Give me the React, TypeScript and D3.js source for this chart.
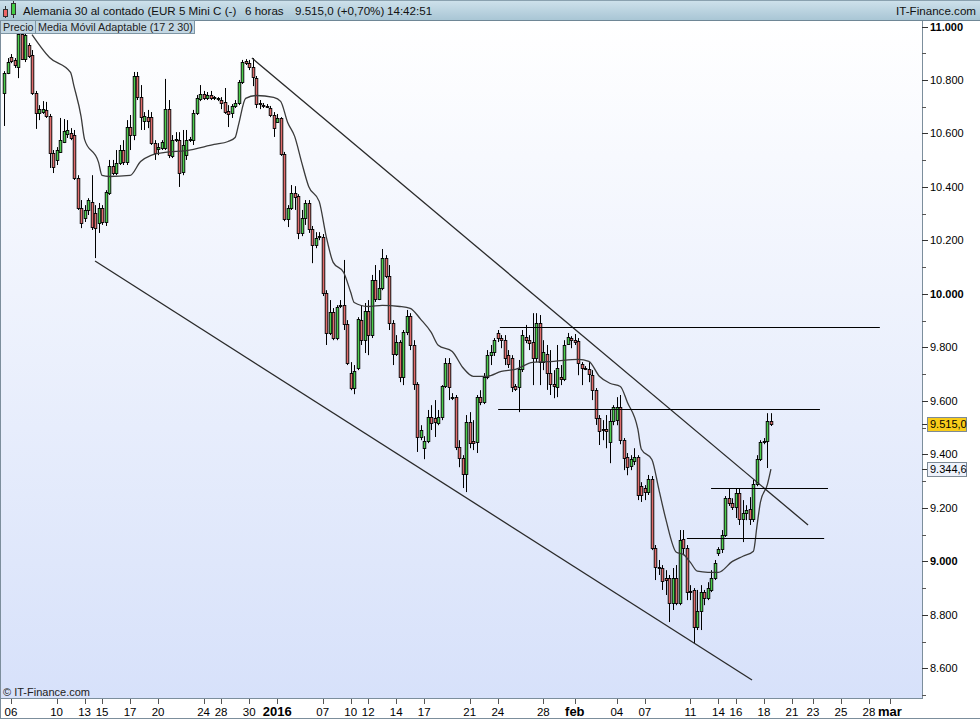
import React from 'react';
import * as d3 from 'd3';

// ---- candle data (6h bars, Dec 2015 - Feb 2016) ----
const opens = [10751,10826,10886,10875,10848,10972,10878,10931,10893,10751,10676,10680,10688,10665,10527,10501,10531,10568,10598,10602,10594,10433,10321,10284,10314,10344,10302,10265,10321,10269,10377,10478,10452,10489,10538,10493,10624,10594,10815,10736,10646,10661,10661,10564,10542,10545,10545,10691,10516,10575,10575,10456,10519,10575,10575,10676,10729,10747,10733,10744,10733,10729,10725,10718,10684,10676,10703,10714,10792,10871,10863,10848,10807,10714,10706,10703,10695,10669,10643,10658,10523,10280,10321,10377,10366,10228,10284,10340,10243,10183,10213,10213,10003,9854,9932,9835,9955,9958,9887,9704,9648,9723,9902,9827,9936,9846,10052,9981,10022,10134,10067,9891,9775,9820,9689,9857,9917,9809,9663,9465,9423,9450,9539,9536,9517,9539,9655,9741,9614,9614,9427,9386,9326,9521,9450,9446,9614,9596,9689,9771,9782,9854,9835,9827,9771,9760,9655,9652,9719,9839,9827,9820,9760,9891,9745,9775,9704,9663,9652,9689,9681,9812,9835,9827,9824,9738,9723,9719,9697,9640,9536,9494,9494,9446,9524,9528,9577,9453,9390,9356,9375,9390,9281,9274,9259,9308,9049,8978,8975,8937,8937,8844,8937,8844,9083,9049,8889,8893,8754,8814,8885,8863,8893,8937,9031,9046,9098,9236,9218,9203,9255,9158,9180,9195,9158,9289,9382,9446,9450,9524];
const highs = [10833,10882,10897,10882,10987,10987,10976,10938,10912,10759,10706,10721,10718,10673,10538,10549,10658,10654,10650,10620,10613,10444,10351,10332,10358,10444,10332,10340,10332,10388,10501,10501,10538,10557,10575,10650,10669,10830,10830,10781,10680,10688,10680,10575,10564,10575,10804,10725,10594,10605,10605,10613,10613,10587,10688,10744,10781,10759,10755,10759,10740,10736,10736,10770,10706,10710,10725,10800,10875,10878,10875,10882,10815,10725,10714,10710,10703,10680,10673,10661,10531,10332,10407,10403,10373,10314,10351,10351,10254,10231,10231,10224,10014,9977,9947,9958,9977,10127,9902,9745,9734,9913,9958,9966,9977,10071,10108,10089,10168,10145,10108,9902,9846,9827,9865,9940,9928,9827,9670,9509,9468,9566,9584,9603,9566,9659,9760,9760,9629,9622,9453,9397,9547,9558,9528,9622,9640,9704,9790,9809,9835,9865,9846,9846,9790,9771,9663,9753,9865,9884,9846,9928,9928,9921,9827,9809,9790,9715,9809,9734,9827,9854,9842,9850,9835,9745,9730,9745,9715,9648,9547,9528,9547,9566,9584,9614,9622,9461,9405,9397,9423,9397,9296,9285,9323,9319,9061,9005,8986,8967,8949,8975,8986,9117,9117,9061,8911,8900,8893,8911,8893,8922,8967,9005,9053,9117,9244,9274,9236,9274,9274,9229,9210,9240,9304,9397,9453,9461,9554,9554];
const lows = [10628,10822,10863,10845,10807,10875,10867,10882,10744,10617,10650,10673,10658,10471,10452,10482,10527,10564,10583,10575,10426,10314,10246,10269,10295,10239,10134,10228,10258,10254,10370,10444,10444,10482,10482,10482,10538,10575,10725,10613,10613,10620,10557,10501,10519,10538,10538,10508,10508,10568,10400,10444,10501,10568,10557,10669,10721,10725,10725,10725,10725,10721,10691,10673,10624,10658,10695,10706,10785,10856,10837,10777,10695,10691,10695,10695,10661,10587,10640,10516,10272,10250,10314,10314,10205,10216,10258,10228,10115,10171,10201,9992,9809,9846,9827,9827,9947,9865,9734,9640,9625,9715,9809,9779,9771,9835,9970,9977,10014,10059,9865,9734,9768,9670,9659,9846,9790,9641,9409,9453,9382,9442,9491,9465,9509,9528,9648,9603,9603,9416,9352,9274,9259,9423,9416,9405,9584,9588,9681,9734,9768,9820,9797,9734,9723,9633,9637,9558,9708,9816,9790,9659,9745,9659,9715,9641,9622,9610,9614,9659,9674,9809,9797,9809,9696,9659,9715,9670,9603,9510,9435,9453,9423,9367,9509,9509,9438,9341,9322,9341,9360,9229,9222,9229,9248,9042,8930,8949,8893,8874,8773,8818,8836,8836,9023,8855,8855,8694,8743,8743,8836,8855,8885,8930,9020,9031,9091,9207,9192,9162,9136,9072,9154,9136,9147,9281,9375,9438,9349,9506];
const closes = [10826,10867,10871,10856,10972,10878,10968,10890,10751,10676,10691,10691,10665,10527,10474,10538,10575,10609,10613,10583,10433,10321,10265,10314,10351,10250,10246,10321,10269,10381,10478,10452,10489,10538,10493,10624,10594,10815,10736,10661,10665,10646,10564,10527,10549,10568,10691,10519,10575,10579,10452,10557,10575,10579,10676,10733,10747,10733,10744,10733,10735,10731,10714,10680,10673,10703,10714,10792,10867,10863,10848,10811,10710,10710,10703,10699,10669,10620,10658,10523,10280,10321,10377,10362,10228,10284,10340,10243,10183,10209,10216,10003,9854,9932,9835,9951,9958,9887,9741,9648,9712,9906,9827,9936,9846,10052,9981,10022,10134,10067,9891,9775,9820,9689,9857,9917,9809,9663,9465,9491,9450,9539,9517,9521,9539,9655,9741,9652,9616,9427,9386,9326,9521,9442,9442,9614,9596,9689,9771,9782,9827,9835,9827,9760,9738,9652,9644,9719,9846,9827,9816,9760,9891,9745,9782,9704,9663,9655,9723,9681,9809,9839,9827,9820,9741,9723,9722,9700,9640,9536,9487,9491,9487,9524,9577,9577,9453,9386,9352,9382,9390,9248,9248,9259,9308,9049,8978,8975,8926,8930,8844,8937,8844,9080,9049,8885,8885,8754,8814,8885,8863,8900,8937,8993,9046,9098,9236,9218,9203,9255,9158,9180,9192,9158,9289,9382,9446,9450,9524,9515];

// ---- adaptive moving average (17 2 30), read at bar indices ----
const maIdx = [8,13,19,20,22,23,27,28,30,36,39,42,46,52,60,64,66,67,69,72,77,79,81,83,85,87,90,92,94,97,99,100,104,108,113,116,119,122,124,128,131,134,138,142,146,151,157,164,167,170,173,176,178,181,182,185,187,189,192,194,196,198,201,204,208,211,214,215,216,218,219];
const maVals = [10970,10884,10828,10776,10664,10578,10492,10443,10439,10443,10495,10518,10529,10536,10559,10570,10585,10634,10731,10742,10735,10720,10641,10589,10492,10402,10346,10215,10118,10080,10006,9968,9953,9957,9953,9946,9905,9856,9808,9785,9725,9692,9692,9710,9718,9744,9748,9755,9748,9692,9666,9654,9595,9494,9419,9381,9269,9157,9034,9026,8996,8963,8959,8959,9000,9019,9038,9131,9221,9288,9345];

// ---- drawn lines ----
const upperTrend = [[70.8, 10882], [229.6, 9136]];
const lowerTrend = [[26.0, 10123], [213.6, 8556]];
const levelValues = [9876, 9569, 9274, 9087];
const levelStart = [141.6, 141.1, 201.9, 195.0];
const levelEnd = [250.1, 233.0, 235.3, 234.2];

// ---- axes ----
const xTickIdx = [2,15,23,28,36,44,57,62,70,78,91,99,104,112,120,133,141,154,163,175,183,196,204,209,217,225,231,239,247,253];
const xTickLabels = ['06','10','13','15','17','20','24','28','30','2016','07','10','12','14','17','21','24','28','feb','04','07','11','14','16','18','21','23','25','28','mar'];
const boldXLabels = ['2016','feb','mar'];
const yTickValues = [8600,8800,9000,9200,9400,9600,9800,10000,10200,10400,10600,10800,11000];
const yMinorValues = [8500,8700,8900,9100,9300,9500,9700,9900,10100,10300,10500,10700,10900];
const boldYValues = [9000,10000,11000];

const lastPrice = 9515.0;
const lastMA = 9344.6;
const titleParts = ['Alemania 30 al contado (EUR 5 Mini C (-)', '6 horas', '9.515,0 (+0,70%)', '14:42:51'];
const titleX = [23, 245, 295, 387];

const FONT = '"Liberation Sans", Arial, sans-serif';
const W = 980, H = 720;
const PLOT_R = 922, PLOT_T = 21, PLOT_B = 698;

const fmtAxis = (v: number) => {
  const s = String(Math.round(v));
  return s.length > 3 ? s.slice(0, s.length - 3) + '.' + s.slice(-3) : s;
};
const fmtPrice = (v: number) => fmtAxis(Math.floor(v)) + ',' + Math.round((v - Math.floor(v)) * 10);

export default function App() {
  const x = d3.scaleLinear().domain([0, 253]).range([4, 890]);
  const y = d3.scaleLinear().domain([8600, 11000]).range([668.3, 26.5]);

  const maLine = d3.line<number>()
    .x((_, i) => x(maIdx[i]))
    .y((d) => y(d))
    .curve(d3.curveMonotoneX)(maVals) || '';

  const green = '#4ccd4c';
  const red = '#e06c6c';

  return (
    <svg width={W} height={H} style={{ position: 'absolute', left: 0, top: 0, fontFamily: FONT }}>
      <defs>
        <linearGradient id="bg" x1="0" y1="0" x2="0" y2="1">
          <stop offset="0%" stopColor="#ffffff" />
          <stop offset="100%" stopColor="#d7e1fa" />
        </linearGradient>
        <linearGradient id="hdr" x1="0" y1="0" x2="0" y2="1">
          <stop offset="0%" stopColor="#cfe2ec" />
          <stop offset="100%" stopColor="#a9c6d5" />
        </linearGradient>
        <clipPath id="plotClip">
          <rect x={0} y={PLOT_T} width={PLOT_R} height={PLOT_B - PLOT_T} />
        </clipPath>
      </defs>

      <rect x={0} y={0} width={W} height={H} fill="#ffffff" />
      <rect x={0} y={PLOT_T} width={PLOT_R} height={PLOT_B - PLOT_T} fill="url(#bg)" />

      <g clipPath="url(#plotClip)">
        {/* candles */}
        {opens.map((o, i) => {
          const cx = Math.round(x(i));
          const c = closes[i];
          const top = y(Math.max(o, c));
          const bot = y(Math.min(o, c));
          return (
            <g key={i}>
              <line x1={cx + 0.5} x2={cx + 0.5} y1={y(highs[i])} y2={y(lows[i])} stroke="#000" strokeWidth={1} />
              <rect x={cx - 0.8} y={Math.round(top) + 0.5} width={2.6} height={Math.max(1, Math.round(bot) - Math.round(top))}
                fill={c >= o ? green : red} stroke="#000" strokeWidth={0.9} />
            </g>
          );
        })}
        {/* moving average */}
        <path d={maLine} fill="none" stroke="#3a3a3a" strokeWidth={1.3} />
        {/* trend lines */}
        {[upperTrend, lowerTrend].map((t, k) => (
          <line key={k} x1={x(t[0][0])} y1={y(t[0][1])} x2={x(t[1][0])} y2={y(t[1][1])} stroke="#2a2a2a" strokeWidth={1.3} />
        ))}
        {levelValues.map((v, k) => (
          <line key={k} x1={x(levelStart[k])} x2={x(levelEnd[k])} y1={Math.round(y(v)) + 0.5} y2={Math.round(y(v)) + 0.5} stroke="#000" strokeWidth={1} />
        ))}
        <text x={3} y={696} fontSize={11} fill="#222">© IT-Finance.com</text>
      </g>

      {/* header */}
      <rect x={0} y={0} width={W} height={20} fill="url(#hdr)" />
      <line x1={0} x2={W} y1={0.5} y2={0.5} stroke="#8aa1af" />
      <line x1={0} x2={W} y1={20.5} y2={20.5} stroke="#6f8796" />
      {/* icon */}
      <line x1={5.5} x2={5.5} y1={6} y2={18} stroke="#333" />
      <rect x={3.5} y={9.5} width={4} height={7} fill="#e66" stroke="#333" />
      <line x1={13.5} x2={13.5} y1={1} y2={18} stroke="#333" />
      <rect x={11.5} y={3.5} width={4} height={11} fill="#4c4" stroke="#333" />
      {titleParts.map((t, k) => (
        <text key={k} x={titleX[k]} y={15} fontSize={11.6} fill="#111">{t}</text>
      ))}
      <text x={976} y={15} fontSize={11.6} fill="#111" textAnchor="end">IT-Finance.com</text>

      {/* legend boxes */}
      <rect x={0.5} y={20.5} width={35} height={13} fill="#c3d7e3" stroke="#7e95a3" />
      <text x={3} y={31} fontSize={10.8} fill="#222">Precio</text>
      <rect x={35.5} y={20.5} width={159} height={13} fill="#c3d7e3" stroke="#7e95a3" />
      <text x={38} y={31} fontSize={10.8} fill="#222">Media Móvil Adaptable (17 2 30)</text>

      {/* right axis */}
      <line x1={PLOT_R + 0.5} x2={PLOT_R + 0.5} y1={PLOT_T} y2={PLOT_B} stroke="#7c8e9c" />
      {yMinorValues.map((v) => (
        <line key={v} x1={PLOT_R} x2={PLOT_R + 4} y1={Math.round(y(v)) + 0.5} y2={Math.round(y(v)) + 0.5} stroke="#555" />
      ))}
      {yTickValues.map((v) => (
        <g key={v}>
          <line x1={PLOT_R} x2={PLOT_R + 6} y1={Math.round(y(v)) + 0.5} y2={Math.round(y(v)) + 0.5} stroke="#333" />
          <text x={930} y={y(v) + 4} fontSize={11} fill="#000" fontWeight={boldYValues.includes(v) ? 'bold' : 'normal'}>{fmtAxis(v)}</text>
        </g>
      ))}
      {/* last price label */}
      <line x1={PLOT_R} x2={PLOT_R + 6} y1={Math.round(y(lastPrice)) + 0.5} y2={Math.round(y(lastPrice)) + 0.5} stroke="#333" />
      <rect x={927.5} y={Math.round(y(lastPrice)) - 7 + 0.5} width={39} height={14} fill="#f8cc1a" stroke="#7d8a96" />
      <text x={930} y={y(lastPrice) + 4} fontSize={11} fill="#000">{fmtPrice(lastPrice)}</text>
      <line x1={PLOT_R} x2={PLOT_R + 6} y1={Math.round(y(lastMA)) + 0.5} y2={Math.round(y(lastMA)) + 0.5} stroke="#333" />
      <rect x={927.5} y={Math.round(y(lastMA)) - 7 + 0.5} width={39} height={14} fill="#eef2fb" stroke="#7d8a96" />
      <text x={930} y={y(lastMA) + 4} fontSize={11} fill="#000">{fmtPrice(lastMA)}</text>

      {/* bottom axis */}
      <line x1={0} x2={PLOT_R + 1} y1={PLOT_B + 0.5} y2={PLOT_B + 0.5} stroke="#7c8e9c" />
      <line x1={0} x2={W} y1={718.5} y2={718.5} stroke="#7c8e9c" />
      <line x1={0.5} x2={0.5} y1={PLOT_T} y2={719} stroke="#7c8e9c" />
      {xTickIdx.map((t, k) => {
        const bold = boldXLabels.includes(xTickLabels[k]);
        return (
          <g key={k}>
            <line x1={Math.round(x(t)) + 0.5} x2={Math.round(x(t)) + 0.5} y1={PLOT_B + 1} y2={PLOT_B + 6} stroke="#555" />
            <text x={x(t)} y={716} fontSize={bold ? 13 : 11.5} textAnchor="middle" fill="#000"
              fontWeight={bold ? 'bold' : 'normal'}>{xTickLabels[k]}</text>
          </g>
        );
      })}
    </svg>
  );
}
